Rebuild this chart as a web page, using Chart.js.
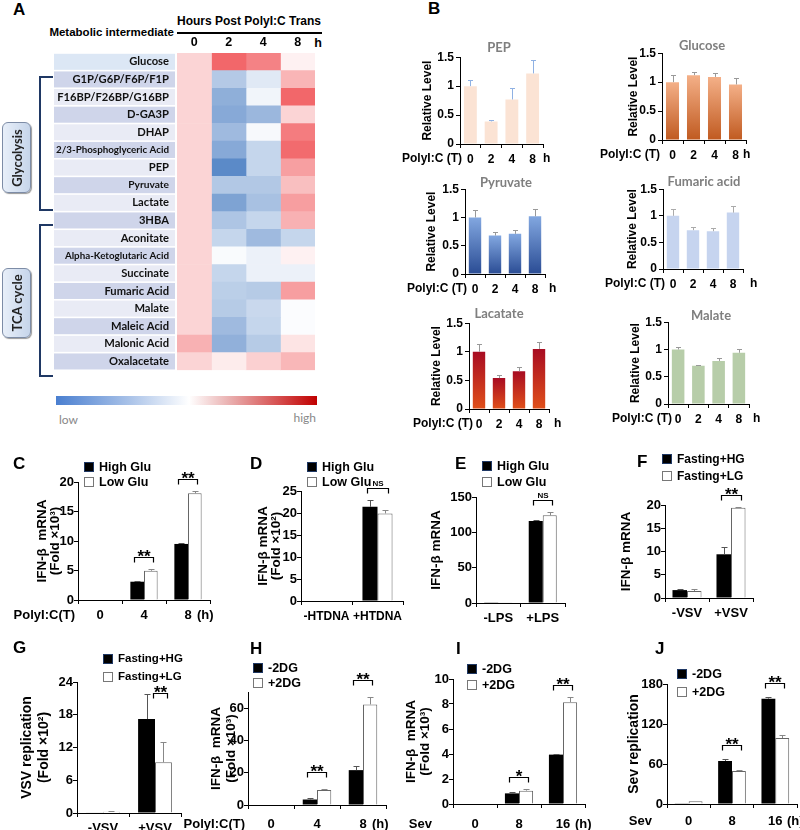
<!DOCTYPE html>
<html><head><meta charset="utf-8">
<script src="https://cdn.jsdelivr.net/npm/chart.js@4.4.1/dist/chart.umd.min.js"></script>
<style>
html,body{margin:0;padding:0;background:#fff;}
body{position:relative;width:800px;height:830px;overflow:hidden;}
canvas{position:absolute;}
.t{position:absolute;white-space:nowrap;line-height:1;}
.bx{position:absolute;box-sizing:border-box;}
</style></head><body>
<script>
const AR='"Liberation Sans", Arial, sans-serif';
const CAL='Lato, "Open Sans", sans-serif';

// ---------- Panel A : heat map ----------
const metabolites=['Glucose','G1P/G6P/F6P/F1P','F16BP/F26BP/G16BP','D-GA3P','DHAP','2/3-Phosphoglyceric Acid','PEP','Pyruvate','Lactate','3HBA','Aconitate','Alpha-Ketoglutaric Acid','Succinate','Fumaric Acid','Malate','Maleic Acid','Malonic Acid','Oxalacetate'];
const hoursA=['0','2','4','8'];
const heat0=[0.22,0.22,0.22,0.22,0.22,0.22,0.22,0.22,0.22,0.22,0.22,0.22,0.22,0.22,0.22,0.22,0.40,0.22];
const heat2=[0.78,-0.39,-0.58,-0.62,-0.50,-0.62,-0.85,-0.40,-0.67,-0.42,-0.30,-0.03,-0.30,-0.35,-0.38,-0.50,-0.57,0.10];
const heat4=[0.64,-0.16,-0.07,-0.52,-0.04,-0.30,-0.30,-0.40,-0.45,-0.30,-0.50,-0.10,-0.10,-0.38,-0.28,-0.30,-0.38,0.24];
const heat8=[0.07,0.38,0.78,0.22,0.67,0.76,0.49,0.33,0.50,0.40,-0.30,0.07,-0.10,0.50,-0.02,-0.02,0.14,0.37];

// ---------- Panel B ----------
const hoursB=['0','2','4','8'];
const pepVal=[1.0,0.39,0.77,1.22], pepErr=[0.10,0.03,0.19,0.24];
const gluVal=[1.0,1.12,1.09,0.96], gluErr=[0.12,0.05,0.07,0.12];
const pyrVal=[1.0,0.68,0.71,1.02], pyrErr=[0.13,0.07,0.07,0.13];
const fumVal=[1.0,0.73,0.71,1.06], fumErr=[0.12,0.06,0.07,0.12];
const lacVal=[1.0,0.54,0.66,1.05], lacErr=[0.13,0.06,0.07,0.13];
const malVal=[1.0,0.70,0.79,0.94], malErr=[0.04,0.02,0.05,0.06];

// ---------- Panels C - J ----------
const hrsC=['0','4','8'];
const cHigh=[0,3.1,9.5], cHighErr=[0,0.1,0.15], cLow=[0,4.95,18.1], cLowErr=[0,0.25,0.45], sigC=['','**','**'];
const catD=['-HTDNA','+HTDNA'];
const dHigh=[0,21.4], dHighErr=[0,1.5], dLow=[0,19.9], dLowErr=[0,0.8], sigD=['','NS'];
const catE=['-LPS','+LPS'];
const eHigh=[1,116], eHighErr=[0,2], eLow=[1,124], eLowErr=[0,5], sigE=['','NS'];
const catF=['-VSV','+VSV'];
const fHG=[1.7,9.4], fHGErr=[0.2,1.5], fLG=[1.5,19.4], fLGErr=[0.5,0.1], sigF=['','**'];
const catG=['-VSV','+VSV'];
const gHG=[0.1,17.2], gHGErr=[0,4.6], gLG=[0.25,9.3], gLGErr=[0.05,3.7], sigG=['','**'];
const hrsH=['0','4','8'];
const hMinus=[0,3.4,21.6], hMinusErr=[0,0.8,2.5], hPlus=[0,9.3,62.3], hPlusErr=[0,0.4,4.8], sigH=['','**','**'];
const hrsI=['0','8','16'];
const iMinus=[0,0.85,3.95], iMinusErr=[0,0.1,0.05], iPlus=[0,1.07,8.15], iPlusErr=[0,0.15,0.4], sigI=['','*','**'];
const hrsJ=['0','8','16'];
const jMinus=[1,64.5,158], jMinusErr=[0,2.5,3], jPlus=[4,49.5,99], jPlusErr=[0,2,4], sigJ=['','**','**'];

// ---------- helpers ----------
function T(s,x,y,o={}){
  const d=document.createElement('div');d.className='t';d.textContent=s;
  d.style.left=x+'px';d.style.top=y+'px';
  d.style.fontSize=(o.size||12)+'px';d.style.fontFamily=o.fam||AR;
  d.style.fontWeight=o.w||'bold';d.style.color=o.c||'#000';
  const ax=o.a==='c'?'-50%':o.a==='r'?'-100%':'0';
  d.style.transform='translate('+ax+',-50%)'+(o.rot?' rotate('+o.rot+'deg)':'');
  document.body.appendChild(d);return d;
}
function B(x,y,w,h,css){const d=document.createElement('div');d.className='bx';
  Object.assign(d.style,{left:x+'px',top:y+'px',width:w+'px',height:h+'px'},css||{});document.body.appendChild(d);return d;}
function legend(x,y,dy,names,size){
  names.forEach((n,i)=>{
    B(x,y+i*dy-5,10,10,{background:i===0?'#000':'#fff',border:i===0?'1px solid #1f3864':'1px solid #777'});
    T(n,x+15,y+i*dy,{size:size||12.5});
  });
}
function heatColor(v){const c=v>=0?[238,60,64]:[62,117,190];const t=Math.min(1,Math.abs(v));
  return 'rgb('+c.map(k=>Math.round(255+(k-255)*t)).join(',')+')';}
function vgrad(top,bot){return c=>{const ch=c.chart,a=ch.chartArea;if(!a||c.raw==null)return bot;
  const y=ch.scales.y.getPixelForValue(c.raw);const g=ch.ctx.createLinearGradient(0,a.bottom,0,Math.min(y,a.bottom-1));
  g.addColorStop(0,bot);g.addColorStop(1,top);return g;};}

const errPlugin={id:'errbars',afterDatasetsDraw(chart,args,opts){
  const ctx=chart.ctx,ys=chart.scales.y,cap=opts.cap||3;
  chart.data.datasets.forEach((ds,di)=>{if(!ds.err)return;const meta=chart.getDatasetMeta(di);
    meta.data.forEach((el,i)=>{const e=ds.err[i];if(!e)return;
      const yt=Math.round(ys.getPixelForValue(ds.data[i]+e))+0.5;const x=Math.round(el.x)+0.5;
      ctx.save();ctx.strokeStyle=ds.errColor||'#666';ctx.lineWidth=1;ctx.beginPath();
      ctx.moveTo(x,el.y);ctx.lineTo(x,yt);ctx.moveTo(x-cap,yt);ctx.lineTo(x+cap,yt);ctx.stroke();ctx.restore();});
  });}};
const sigPlugin={id:'sig',afterDatasetsDraw(chart,args,opts){
  const marks=opts.marks;if(!marks||!marks.length)return;
  const ctx=chart.ctx,ys=chart.scales.y,d0=chart.data.datasets[0],d1=chart.data.datasets[1];
  const m0=chart.getDatasetMeta(0),m1=chart.getDatasetMeta(1);
  marks.forEach((mk,i)=>{if(!mk)return;const b0=m0.data[i],b1=m1.data[i];
    const top=Math.min(ys.getPixelForValue(d0.data[i]+(d0.err[i]||0)),ys.getPixelForValue(d1.data[i]+(d1.err[i]||0)));
    const by=Math.round(top-opts.gap)+0.5;
    const xa=Math.round(b0.x+opts.brL)+0.5,xb=Math.round(b1.x+b1.width/2-5)+0.5;
    ctx.save();ctx.strokeStyle='#000';ctx.lineWidth=1.2;ctx.beginPath();
    ctx.moveTo(xa,by+5);ctx.lineTo(xa,by);ctx.lineTo(xb,by);ctx.lineTo(xb,by+5);ctx.stroke();
    ctx.fillStyle='#000';ctx.textAlign='center';ctx.textBaseline='alphabetic';
    if(mk==='NS'){ctx.font='bold 8px '+AR;ctx.fillText(mk,(xa+xb)/2,by-3);}
    else{ctx.font='bold 17px '+AR;ctx.fillText(mk,(xa+xb)/2,by+4.5);}
    ctx.restore();});}};

function mkBar(o){
  const lh=o.lh,fs=o.fs,tl=4;
  const L=Math.round(o.titleX-lh/2);
  const padTop=o.padTop,padR=o.padR||14,xH=28;
  const Tp=o.y1-padTop,W=o.x1-L+padR,H=o.y0-Tp+xH;
  const cv=document.createElement('canvas');cv.width=W;cv.height=H;
  Object.assign(cv.style,{left:L+'px',top:Tp+'px',width:W+'px',height:H+'px'});
  document.body.appendChild(cv);
  const xfs=o.xfs||fs;
  new Chart(cv,{type:'bar',
    data:{labels:o.labels,datasets:o.sets.map(s=>({data:s.data,err:s.err,errColor:s.errColor,backgroundColor:s.fill,
      borderColor:s.border||'rgba(0,0,0,0)',borderWidth:s.bw||0,barPercentage:o.barPct||1,categoryPercentage:o.catPct}))},
    options:{responsive:false,maintainAspectRatio:false,animation:false,devicePixelRatio:1,
      layout:{padding:{top:padTop,right:padR,left:0,bottom:0},autoPadding:false},
      plugins:{legend:{display:false},tooltip:{enabled:false},
        sig:{marks:o.marks||[],gap:o.gap==null?12:o.gap,brL:o.brL==null?-3:o.brL},errbars:{cap:o.cap||3}},
      scales:{
        x:{grid:{display:true,drawOnChartArea:false,drawTicks:true,tickLength:tl,color:'#000',lineWidth:1,offset:true},
          border:{display:true,color:'#000',width:1},
          ticks:{font:{family:AR,weight:'bold',size:xfs},color:'#000',padding:Math.max(0,o.xdy-tl-xfs/2),maxRotation:0,autoSkip:false},
          afterFit:s=>{s.height=xH}},
        y:{min:0,max:o.max,grid:{display:true,drawOnChartArea:false,drawTicks:true,tickLength:tl,color:'#000'},
          border:{display:true,color:'#000',width:1},
          ticks:{stepSize:o.step,font:{family:AR,weight:'bold',size:fs},color:'#000',padding:o.ypad==null?2:o.ypad,callback:v=>String(v)},
          title:{display:true,text:o.title,font:{family:AR,weight:'bold',size:o.tfs,lineHeight:lh+'px'},padding:0,color:'#000'},
          afterFit:s=>{s.width=o.x0-L}}
      }},
    plugins:[errPlugin,sigPlugin]});
}

// ================= PANEL A =================
T('A',13,9,{size:17});
T('Hours Post PolyI:C Trans',249,21,{size:12,a:'c'});
T('Metabolic intermediate',174,33,{size:11.5,a:'r'});
B(177,32,145,1.6,{background:'#000'});
T('h',318,43,{size:12.5,a:'c'});
(function(){
  const L=50,Tp=35,W=272,H=350;
  const cv=document.createElement('canvas');cv.width=W;cv.height=H;
  Object.assign(cv.style,{left:L+'px',top:Tp+'px',width:W+'px',height:H+'px'});
  document.body.appendChild(cv);
  const boxPlugin={id:'boxes',beforeDraw(chart){
    const ys=chart.scales.y,ctx=chart.ctx,n=chart.data.labels.length,rh=(ys.bottom-ys.top)/n;
    for(let i=0;i<n;i++){const y=ys.top+i*rh;
      ctx.fillStyle=i===0?'#dce7f5':(i%2===1?'#cfd5ea':'#e9ebf5');
      ctx.fillRect(ys.left+4,y+0.8,ys.right-ys.left-6,rh-1.6);}
  }};
  const sets=[heat0,heat2,heat4,heat8];
  new Chart(cv,{type:'bar',
    data:{labels:metabolites,datasets:sets.map((vals,j)=>({data:vals.map(()=>[j,j+1]),backgroundColor:vals.map(heatColor),
      borderWidth:0,grouped:false,barPercentage:1,categoryPercentage:1}))},
    options:{indexAxis:'y',responsive:false,animation:false,devicePixelRatio:1,
      layout:{padding:{top:0,right:7,left:0,bottom:2},autoPadding:false},
      plugins:{legend:{display:false},tooltip:{enabled:false}},
      scales:{
        x:{type:'linear',position:'top',min:0,max:4,grid:{display:false,drawTicks:false},border:{display:false},
          afterBuildTicks:s=>{s.ticks=hoursA.map((h,i)=>({value:i+0.5}));},
          ticks:{callback:(v,i)=>hoursA[i],font:{family:AR,weight:'bold',size:12.5},color:'#000',padding:3,autoSkip:false,maxRotation:0},
          afterFit:s=>{s.height=18}},
        y:{grid:{display:false,drawTicks:false},border:{display:false},
          ticks:{font:c=>({family:CAL,weight:'bold',size:(metabolites[c.index]||'').length>18?9.8:(c.index===7?10.2:11.2)}),color:'#111',padding:8,autoSkip:false},
          afterFit:s=>{s.width=127}}
      }},
    plugins:[boxPlugin]});
})();
// brackets and group boxes
B(39,76,14,135,{borderTop:'2px solid #1f3864',borderLeft:'2px solid #1f3864',borderBottom:'2px solid #1f3864'});
B(39,224,14,153,{borderTop:'2px solid #1f3864',borderLeft:'2px solid #1f3864',borderBottom:'2px solid #1f3864'});
const gbox={border:'1px solid #7d8ca6',borderRadius:'6px',background:'linear-gradient(to right,#e8eff9,#c6d5ea)',boxShadow:'1px 1px 1px #999'};
B(2,122,29,71,gbox);B(2,268,29,70,gbox);
T('Glycolysis',16.5,157.5,{size:13,fam:CAL,a:'c',rot:-90,c:'#222'});
T('TCA cycle',16.5,303,{size:13,fam:CAL,a:'c',rot:-90,c:'#222'});
// colour bar
B(56,396,261,9,{background:'linear-gradient(to right,#4a7fd0 0%,#a9c2e8 28%,#ffffff 51%,#eab2b2 66%,#d65050 85%,#c00000 100%)'});
T('low',59,420,{size:12,fam:CAL,w:'normal',c:'#888'});
T('high',316,418,{size:12,fam:CAL,w:'normal',c:'#888',a:'r'});

// ================= PANEL B =================
T('B',428,8,{size:17});
function panelB(o){
  mkBar({x0:o.x0,y0:o.y0,y1:o.y1,x1:o.x1,titleX:o.tx,lh:14,tfs:12,fs:12,title:'Relative Level',max:1.5,step:0.5,
    labels:hoursB,sets:[{data:o.v,err:o.e,fill:o.fill,errColor:o.ec}],catPct:1,barPct:0.62,padTop:8,padR:10,xdy:14,cap:2.5});
  T(o.name,o.nx,o.ny,{size:13,fam:CAL,c:'#7f7f7f',a:'c'});
  T('PolyI:C (T)',o.pr,o.y0+14,{size:12,a:'r'});
  T('h',o.hx,o.y0+14,{size:12});
}
panelB({name:'PEP',nx:499,ny:47,x0:460,y0:144,y1:56,x1:543,tx:428,v:pepVal,e:pepErr,fill:'#fbe3d4',ec:'#8fb1e3',pr:462,hx:543});
panelB({name:'Glucose',nx:702,ny:45,x0:662,y0:140,y1:52,x1:746,tx:634,v:gluVal,e:gluErr,fill:vgrad('#f4b088','#c05a20'),ec:'#999',pr:660,hx:743});
panelB({name:'Pyruvate',nx:506,ny:182,x0:465,y0:274,y1:188,x1:545,tx:432,v:pyrVal,e:pyrErr,fill:vgrad('#82a7e0','#2a4c94'),ec:'#999',pr:467,hx:549});
panelB({name:'Fumaric acid',nx:704,ny:181,x0:663,y0:269,y1:188,x1:743,tx:633,v:fumVal,e:fumErr,fill:'#c6d4ef',ec:'#aaa',pr:665,hx:750});
panelB({name:'Lacatate',nx:499,ny:313,x0:469,y0:409,y1:322,x1:549,tx:437,v:lacVal,e:lacErr,fill:vgrad('#a80c22','#e0501a'),ec:'#999',pr:473,hx:554});
panelB({name:'Malate',nx:711,ny:315,x0:668,y0:404,y1:321,x1:749,tx:636,v:malVal,e:malErr,fill:'#b7cda9',ec:'#999',pr:672,hx:753});

// ================= PANELS C - J =================
const BLK={fill:'#000',border:'#000',bw:0,errColor:'#555'};
const WHT={fill:'#fff',border:'#666',bw:1,errColor:'#888'};
function pair(a,ae,b,be){return [Object.assign({data:a,err:ae},BLK),Object.assign({data:b,err:be},WHT)];}

T('C',13,463,{size:17});
mkBar({x0:78,y0:600,y1:482,x1:210,titleX:42,lh:13,tfs:13.5,fs:13,title:['IFN-β  mRNA','(Fold ×10³)'],max:20,step:5,
  labels:hrsC,sets:pair(cHigh,cHighErr,cLow,cLowErr),catPct:0.62,padTop:34,xdy:14,marks:sigC,ypad:0});
T('PolyI:C(T)',75,614,{size:13,a:'r'});T('(h)',197,614,{size:13});
legend(84,467,15,['High Glu','Low  Glu']);

T('D',250,463,{size:17});
mkBar({x0:301,y0:601,y1:491,x1:403,titleX:263,lh:13,tfs:13.5,fs:13,xfs:12,title:['IFN-β mRNA','(Fold ×10²)'],max:25,step:5,
  labels:catD,sets:pair(dHigh,dHighErr,dLow,dLowErr),catPct:0.59,padTop:34,xdy:14,marks:sigD,ypad:0});
legend(307,467,15,['High Glu','Low  Glu']);

T('E',455,463,{size:17});
mkBar({x0:476,y0:603,y1:497,x1:565,titleX:436,lh:14,tfs:13.5,fs:13,title:'IFN-β mRNA',max:150,step:50,
  labels:catE,sets:pair(eHigh,eHighErr,eLow,eLowErr),catPct:0.63,padTop:34,xdy:14,marks:sigE,ypad:0});
legend(482,466,16,['High Glu','Low  Glu']);

T('F',637,461,{size:17});
mkBar({x0:665,y0:598,y1:505,x1:753,titleX:626,lh:14,tfs:13.5,fs:13,title:'IFN-β mRNA',max:20,step:5,
  labels:catF,sets:pair(fHG,fHGErr,fLG,fLGErr),catPct:0.66,padTop:34,xdy:14,marks:sigF,ypad:0});
legend(662,459,17,['Fasting+HG','Fasting+LG'],12);

T('G',13,647,{size:17});
mkBar({x0:77,y0:813,y1:682,x1:181,titleX:27,lh:17,tfs:14,fs:13,title:['VSV replication','(Fold ×10²)'],max:24,step:6,
  labels:catG,sets:pair(gHG,gHGErr,gLG,gLGErr),catPct:0.65,padTop:34,xdy:14,marks:sigG,gap:1,brL:6,ypad:0});
legend(103,659,18,['Fasting+HG','Fasting+LG'],11.5);

T('H',250,648,{size:17});
mkBar({x0:248,y0:805,y1:692,x1:386,titleX:216,lh:15,tfs:13.5,fs:13,title:['IFN-β  mRNA','(Fold ×10³)'],max:70,step:10,
  labels:hrsH,sets:pair(hMinus,hMinusErr,hPlus,hPlusErr),catPct:0.62,padTop:34,xdy:18,marks:sigH,gap:17,ypad:0});
T('PolyI:C(T)',245,823,{size:13,a:'r'});T('(h)',372,823,{size:13});
legend(253,668,15,['-2DG','+2DG']);

T('I',456,648,{size:17});
mkBar({x0:453,y0:804,y1:679,x1:585,titleX:411,lh:14,tfs:13.5,fs:13,title:['IFN-β  mRNA','(Fold ×10³)'],max:10,step:2,
  labels:hrsI,sets:pair(iMinus,iMinusErr,iPlus,iPlusErr),catPct:0.64,padTop:34,xdy:19,marks:sigI,ypad:0});
T('Sev',432,823,{size:13,a:'r'});T('(h)',575,823,{size:13});
legend(467,669,16,['-2DG','+2DG']);

T('J',655,648,{size:17});
mkBar({x0:667,y0:804,y1:684,x1:797,titleX:634,lh:14,tfs:14,fs:13,title:'Sev replication',max:180,step:60,
  labels:hrsJ,sets:pair(jMinus,jMinusErr,jPlus,jPlusErr),catPct:0.64,padTop:34,xdy:16,marks:sigJ,gap:14,ypad:0});
T('Sev',652,820,{size:13,a:'r'});T('(h)',787,820,{size:13});
legend(677,674,18,['-2DG','+2DG']);
</script>
</body></html>
